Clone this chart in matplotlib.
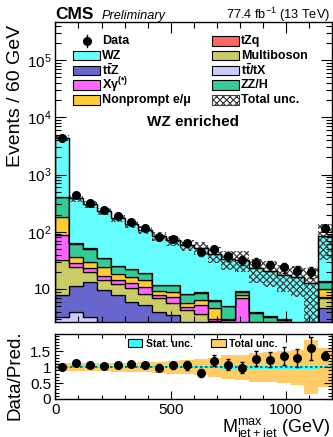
import numpy as np
import matplotlib.pyplot as plt
from matplotlib.patches import Patch, Rectangle
from matplotlib.ticker import LogLocator, NullFormatter, FuncFormatter, MultipleLocator, FixedLocator

plt.rcParams['font.family'] = ['Liberation Sans', 'DejaVu Sans']
plt.rcParams['mathtext.default'] = 'regular'
plt.rcParams['hatch.linewidth'] = 0.9

# 60 GeV bins, last one holds the overflow
edges = np.arange(0, 1201, 60)

data = [4400, 434, 323, 236, 186, 149, 116, 82, 75, 63, 44, 50, 37, 32, 29, 26, 24, 21, 20, 117]

ttx = [3.3, 3.9, 3.3, 1.5, 1.2, 1.0, 0.8, 0.6, 0.5, 0.4, 0.3, 0.3, 0.2, 0.2, 0.2, 0.1, 0.1, 0.1, 0.1, 0.5]
ttz = [4.7, 7.2, 9.7, 8.2, 6.6, 5.0, 4.45, 3.3, 3.0, 2.0, 1.7, 1.5, 1.3, 1.0, 0.8, 0.8, 0.7, 0.5, 0.4, 4.2]
multiboson = [24, 13.4, 7.0, 4.7, 4.2, 4.3, 2.95, 3.1, 2.3, 1.9, 1.7, 1.0, 0.9, 0.6, 0.6, 0.6, 0.5, 0.4, 0.4, 2.2]
xgamma = [56, 3.5, 3.0, 2.7, 2.4, 2.2, 2.8, 0.9, 1.5, 0.45, 1.55, 0.2, 0.5, 5.1, 0.2, 0.2, 0.2, 0.2, 0.1, 0.2]
nonprompt = [95, 8.5, 7.0, 7.4, 3.6, 4.0, 3.4, 1.4, 1.7, 1.05, 1.25, 1.6, 0.1, 1.0, 0.4, 0.3, 0.3, 0.3, 0.3, 2.9]
zzh = [226, 25.5, 21, 10.5, 7.0, 5.9, 4.4, 2.4, 2.7, 2.4, 2.1, 1.6, 2.0, 1.1, 1.6, 1.3, 1.1, 0.8, 0.7, 3.4]
tzq = [1.0, 0.6, 0.5, 0.4, 0.3, 0.3, 0.2, 0.2, 0.2, 0.1, 0.1, 0.1, 0.1, 0.1, 0.1, 0.1, 0.1, 0.1, 0.1, 0.3]
wz = [3940, 321, 253, 193, 150, 114, 90, 71, 59, 51, 44, 35, 29, 23.5, 19, 17.6, 14.7, 13.8, 10.4, 72]

# relative uncertainties on the prediction
total_unc = [0.12, 0.12, 0.13, 0.13, 0.14, 0.15, 0.16, 0.18, 0.2, 0.22, 0.25, 0.3, 0.38, 0.4, 0.45, 0.48, 0.5, 0.55, 0.85, 0.62]
stat_unc = [0.02, 0.03, 0.03, 0.03, 0.03, 0.03, 0.03, 0.03, 0.03, 0.03, 0.03, 0.03, 0.04, 0.08, 0.04, 0.04, 0.04, 0.04, 0.05, 0.03]

stack = [
    (ttx, '#CCCCFF', r't$\bar{t}$/tX'),
    (ttz, '#6666CC', r't$\bar{t}$Z'),
    (multiboson, '#CCCC66', 'Multiboson'),
    (xgamma, '#FF66FF', r'X$\gamma^{(*)}$'),
    (nonprompt, '#FFCC33', 'Nonprompt e/μ'),
    (zzh, '#33CC99', 'ZZ/H'),
    (tzq, '#FF6666', 'tZq'),
    (wz, '#66FFFF', 'WZ'),
]
colors = {lab: col for _, col, lab in stack}

centers = 0.5 * (edges[1:] + edges[:-1])
data = np.array(data, dtype=float)
data_err = np.sqrt(data)

fig = plt.figure(figsize=(3.33, 4.37), dpi=100)
ax = fig.add_axes([0.1664, 0.2632, 0.8306, 0.6871])
rax = fig.add_axes([0.1664, 0.0870, 0.8306, 0.1487])

base = np.full(len(centers), 1e-3)
for vals, col, lab in stack:
    top = base + np.array(vals)
    ax.stairs(top, edges, baseline=base, fill=True, facecolor=col,
              edgecolor='black', lw=0.9)
    base = top
total = base

unc = np.array(total_unc)
ax.stairs(total * (1 + unc), edges, baseline=total * (1 - unc), fill=True,
          facecolor='none', edgecolor='#404040', hatch='xxxxx', lw=0)
ax.stairs(total, edges, color='black', lw=0.9)

ax.errorbar(centers, data, yerr=data_err, fmt='o', color='black', ms=5.5,
            elinewidth=1, capsize=1.5, zorder=5)

ax.set_yscale('log')
ax.set_xlim(0, 1200)
ax.set_ylim(2.65, 4.7e5)
ax.set_ylabel('Events / 60 GeV', fontsize=14, ha='right')
ax.yaxis.set_label_coords(-0.115, 0.99)

decade = {1: '10', 2: '$10^2$', 3: '$10^3$', 4: '$10^4$', 5: '$10^5$'}
ax.yaxis.set_major_locator(LogLocator(base=10))
ax.yaxis.set_minor_locator(LogLocator(base=10, subs=np.arange(2, 10)))
ax.yaxis.set_major_formatter(FuncFormatter(lambda v, p: decade.get(int(round(np.log10(v))), '')))
ax.yaxis.set_minor_formatter(NullFormatter())
ax.xaxis.set_major_locator(MultipleLocator(500))
ax.xaxis.set_minor_locator(MultipleLocator(100))
ax.tick_params(axis='x', labelbottom=False)

for a in (ax, rax):
    a.tick_params(which='both', direction='in', top=True, right=True, labelsize=11, pad=3)
    a.tick_params(which='major', length=8, width=0.8)
    a.tick_params(which='minor', length=4, width=0.8)
    for s in a.spines.values():
        s.set_linewidth(1.0)

# legend drawn row by row (ROOT-like fixed row pitch)
left_labels = ['Data', 'WZ', r't$\bar{t}$Z', r'X$\gamma^{(*)}$', 'Nonprompt e/μ']
right_labels = ['tZq', 'Multiboson', r't$\bar{t}$/tX', 'ZZ/H', 'Total unc.']
row_y0, row_step = 0.936, 0.0491
box_w, box_h = 0.097, 0.032


def legend_key(a, x, y, label):
    if label == 'Data':
        a.plot([x + box_w / 2] * 2, [y - 0.02, y + 0.02], color='black', lw=1,
               transform=a.transAxes)
        a.plot([x + box_w / 2], [y], 'o', color='black', ms=5.5, transform=a.transAxes)
    else:
        if label == 'Total unc.':
            kw = dict(facecolor='white', edgecolor='#404040', hatch='xxxxx')
        else:
            kw = dict(facecolor=colors[label], edgecolor='black')
        a.add_patch(Rectangle((x, y - box_h / 2), box_w, box_h, lw=0.8,
                              transform=a.transAxes, **kw))
    a.text(x + box_w + 0.008, y, label, transform=a.transAxes, va='center',
           fontsize=9.0, fontweight='bold')


for col_x, labels in ((0.065, left_labels), (0.565, right_labels)):
    for i, lab in enumerate(labels):
        legend_key(ax, col_x, row_y0 - i * row_step, lab)

ax.text(0.497, 0.665, 'WZ enriched', transform=ax.transAxes, ha='center', va='center',
        fontsize=11, fontweight='bold')

fig.text(0.166, 0.9565, 'CMS', fontsize=12.5, fontweight='bold', va='baseline')
fig.text(0.306, 0.9565, 'Preliminary', fontsize=9.2, style='italic', va='baseline')
fig.text(0.99, 0.9565, r'77.4 fb$^{-1}$ (13 TeV)', fontsize=9.2, ha='right', va='baseline')

# ratio panel
ratio = data / total
ratio_err = data_err / total
stat = np.array(stat_unc)
rax.stairs(1 + unc, edges, baseline=1 - unc, fill=True, color='#FFCC66', lw=0)
rax.stairs(1 + stat, edges, baseline=1 - stat, fill=True, color='#33FFFF', lw=0)
rax.axhline(1, color='#006060', ls=(0, (1.5, 1.5)), lw=1.2)
rax.errorbar(centers, ratio, yerr=ratio_err, fmt='o', color='black', ms=5.5,
             elinewidth=1, capsize=1.5, zorder=5)
rax.set_xlim(0, 1200)
rax.set_ylim(0, 2.05)
rax.yaxis.set_major_locator(FixedLocator([0, 0.5, 1, 1.5]))
rax.yaxis.set_major_formatter(FuncFormatter(lambda v, p: f'{v:g}'))
rax.yaxis.set_minor_locator(MultipleLocator(0.1))
rax.xaxis.set_major_locator(MultipleLocator(500))
rax.xaxis.set_minor_locator(MultipleLocator(100))
rax.tick_params(which='major', length=6)
rax.tick_params(which='minor', length=3)
rax.set_ylabel('Data/Pred.', fontsize=13.5)
rax.yaxis.set_label_coords(-0.115, 0.37)
rax.set_xlabel(r'M$^{max}_{jet + jet}$ (GeV)', fontsize=13, ha='right')
rax.xaxis.set_label_coords(0.995, -0.28)

rleg_kw = dict(frameon=False, prop={'weight': 'bold', 'size': 7.5}, handlelength=1.4,
               handleheight=0.9, handletextpad=0.3, borderpad=0, borderaxespad=0,
               loc='upper left')
l1 = rax.legend([Patch(facecolor='#33FFFF', edgecolor='black', lw=0.8)], ['Stat. unc.'],
                bbox_to_anchor=(0.262, 0.93), **rleg_kw)
rax.add_artist(l1)
rax.legend([Patch(facecolor='#FFCC66', edgecolor='black', lw=0.8)], ['Total unc.'],
           bbox_to_anchor=(0.563, 0.93), **rleg_kw)

fig.savefig('out.png', dpi=100)
